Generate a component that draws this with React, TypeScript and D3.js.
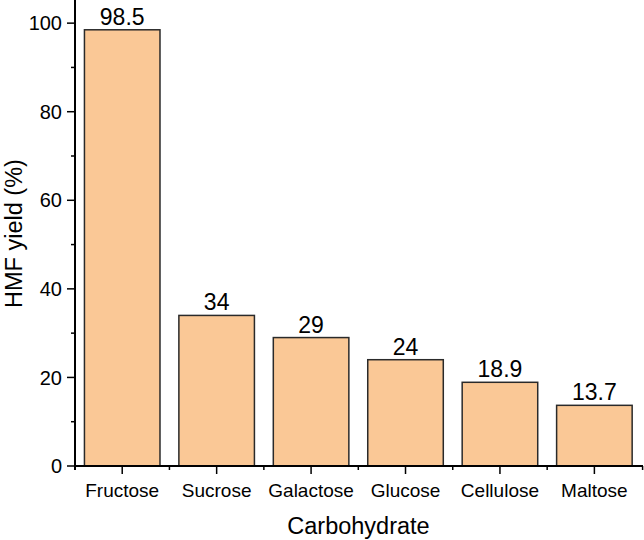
import React from "react";
import * as d3 from "d3";

const categories = ["Fructose", "Sucrose", "Galactose", "Glucose", "Cellulose", "Maltose"];
const yields = [98.5, 34, 29, 24, 18.9, 13.7];
const yieldLabels = ["98.5", "34", "29", "24", "18.9", "13.7"];
const yMajorTicks = [0, 20, 40, 60, 80, 100];
const yMinorTicks = [10, 30, 50, 70, 90];

const W = 644;
const H = 540;
const left = 75;
const right = 641.6;
const bottom = 466;
const top = 1;

export default function App() {
  const x = d3.scaleBand<string>().domain(categories).range([left, right]).paddingInner(0.2).paddingOuter(0.1);
  const y = d3.scaleLinear().domain([0, 105]).range([bottom, top]);
  const step = x.step();
  const font = "'Liberation Sans', Arial, sans-serif";
  const boundaries = categories.slice(1).map((c) => (x(c) as number) - step * 0.1);

  return (
    <svg width={W} height={H} style={{ position: "absolute", left: 0, top: 0 }} fontFamily={font}>
      <rect x={0} y={0} width={W} height={H} fill="#fff" />
      {categories.map((c, i) => (
        <g key={c}>
          <rect
            x={x(c)}
            y={y(yields[i])}
            width={x.bandwidth()}
            height={bottom - y(yields[i])}
            fill="#FAC896"
            stroke="#2a2a2a"
            strokeWidth={1.5}
          />
          <text
            x={(x(c) as number) + x.bandwidth() / 2}
            y={y(yields[i]) - 5}
            textAnchor="middle"
            fontSize={23}
            fill="#000"
          >
            {yieldLabels[i]}
          </text>
          <line
            x1={(x(c) as number) + x.bandwidth() / 2}
            x2={(x(c) as number) + x.bandwidth() / 2}
            y1={bottom}
            y2={bottom + 8}
            stroke="#000"
            strokeWidth={1.5}
          />
          <text
            x={(x(c) as number) + x.bandwidth() / 2}
            y={497}
            textAnchor="middle"
            fontSize={19}
            fill="#000"
          >
            {c}
          </text>
        </g>
      ))}
      {boundaries.map((b, i) => (
        <line key={"b" + i} x1={b} x2={b} y1={bottom} y2={bottom + 4} stroke="#000" strokeWidth={1.5} />
      ))}
      <line x1={right + 1} x2={right + 1} y1={bottom} y2={bottom + 4} stroke="#000" strokeWidth={1.5} />
      {yMajorTicks.map((t) => (
        <g key={"y" + t}>
          <line x1={left - 8} x2={left} y1={y(t)} y2={y(t)} stroke="#000" strokeWidth={1.5} />
          <text x={left - 13} y={y(t)} dy="0.36em" textAnchor="end" fontSize={20} fill="#000">
            {t}
          </text>
        </g>
      ))}
      {yMinorTicks.map((t) => (
        <line key={"m" + t} x1={left - 4} x2={left} y1={y(t)} y2={y(t)} stroke="#000" strokeWidth={1.5} />
      ))}
      <line x1={left} x2={left} y1={0} y2={bottom + 4} stroke="#000" strokeWidth={2} />
      <line x1={left - 1} x2={643} y1={bottom} y2={bottom} stroke="#000" strokeWidth={2} />
      <text x={358.5} y={534} textAnchor="middle" fontSize={23.5} fill="#000">
        Carbohydrate
      </text>
      <text
        transform={`translate(22, ${(bottom + top) / 2}) rotate(-90)`}
        textAnchor="middle"
        fontSize={23.5}
        fill="#000"
      >
        HMF yield (%)
      </text>
    </svg>
  );
}
